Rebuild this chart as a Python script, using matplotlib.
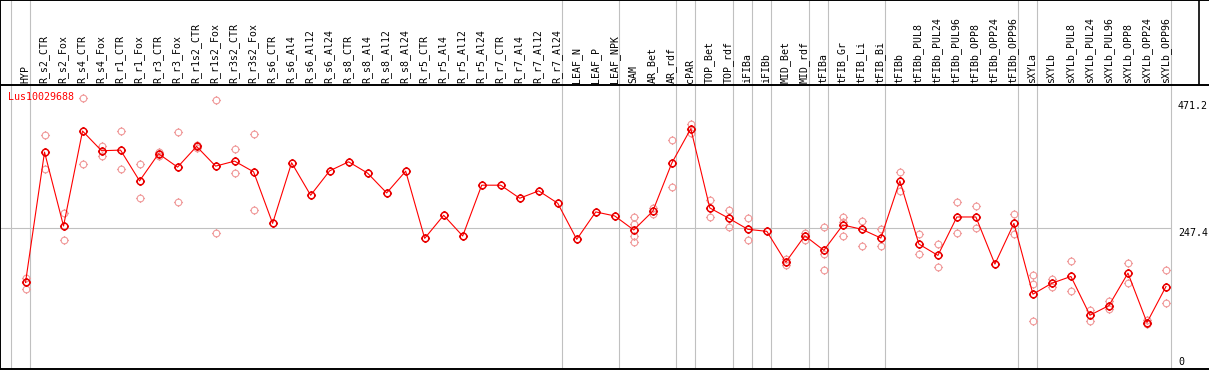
import numpy as np
import matplotlib
matplotlib.use('Agg')
import matplotlib.pyplot as plt
from matplotlib.path import Path

# sample names shown in the header
labels = ['HYP', 'R_s2_CTR', 'R_s2_Fox', 'R_s4_CTR', 'R_s4_Fox', 'R_r1_CTR', 'R_r1_Fox',
          'R_r3_CTR', 'R_r3_Fox', 'R_r1s2_CTR', 'R_r1s2_Fox', 'R_r3s2_CTR', 'R_r3s2_Fox',
          'R_s6_CTR', 'R_s6_Al4', 'R_s6_Al12', 'R_s6_Al24', 'R_s8_CTR', 'R_s8_Al4',
          'R_s8_Al12', 'R_s8_Al24', 'R_r5_CTR', 'R_r5_Al4', 'R_r5_Al12', 'R_r5_Al24',
          'R_r7_CTR', 'R_r7_Al4', 'R_r7_Al12', 'R_r7_Al24', 'LEAF_N', 'LEAF_P', 'LEAF_NPK',
          'SAM', 'AR_Bet', 'AR_rdf', 'cPAR', 'TOP_Bet', 'TOP_rdf', 'iFIBa', 'iFIBb',
          'MID_Bet', 'MID_rdf', 'tFIBa', 'tFIB_Gr', 'tFIB_Li', 'tFIB_Bi', 'tFIBb',
          'tFIBb_PUL8', 'tFIBb_PUL24', 'tFIBb_PUL96', 'tFIBb_OPP8', 'tFIBb_OPP24',
          'tFIBb_OPP96', 'sXYLa', 'sXYLb', 'sXYLb_PUL8', 'sXYLb_PUL24', 'sXYLb_PUL96',
          'sXYLb_OPP8', 'sXYLb_OPP24', 'sXYLb_OPP96']

# mean expression per sample
means = [151.4, 381.1, 250.9, 418.2, 383.5, 384.6, 330.4, 378.2, 354.6, 391.1,
         356.4, 365.2, 346.3, 255.6, 362.3, 305.1, 348.1, 364.0, 344.0, 309.2,
         347.5, 229.2, 269.8, 233.3, 322.8, 322.8, 299.8, 312.8, 291.0, 227.4,
         275.7, 268.6, 243.9, 276.9, 361.7, 422.3, 282.7, 264.5, 245.1, 241.5,
         187.3, 233.8, 208.0, 252.7, 245.1, 229.7, 330.4, 219.1, 199.1, 266.8,
         266.8, 183.8, 255.6, 130.8, 150.2, 162.0, 93.7, 110.8, 167.9, 80.8, 144.3]

# individual replicates (empty = single sample)
reps = [[160, 152, 140], [411, 351], [273, 226], [477, 360], [391, 375], [418, 351],
        [360, 300], [382, 374], [417, 293], [394, 388], [473, 238], [386, 345],
        [413, 279], [], [], [], [], [], [], [], [], [], [], [], [], [], [], [], [],
        [], [], [], [267, 254, 233, 222], [282, 272], [402, 320], [431, 414],
        [297, 267], [279, 250], [265, 226], [], [192, 183], [239, 226],
        [249, 201, 174], [267, 258, 233], [260, 215], [245, 215], [346, 313],
        [237, 201], [220, 178], [293, 238], [286, 247], [], [272, 237],
        [164, 148, 83], [157, 144], [189, 136], [103, 83], [118, 104], [186, 151],
        [85, 78], [173, 116]]

# last sample of each tissue group (separator drawn after it)
group_ends = [-1, 0, 28, 31, 34, 35, 37, 38, 39, 41, 42, 45, 52, 53, 60]
ref_ticks = [471.2, 247.4]
gene = 'Lus10029688'

W, H = 1209, 370
X0, DX = 26, 19          # pixel of first sample, pixels per sample
HEAD = 85                # header height in pixels

fig = plt.figure(figsize=(W / 100, H / 100), dpi=100)
xl = ((0.5 - X0) / DX, (W - X0) / DX)

ax = fig.add_axes([0, 1 / H, 1, (H - 1 - HEAD) / H])
hx = fig.add_axes([0, (H - HEAD) / H, 1, HEAD / H])
for a in (ax, hx):
    a.set_xlim(*xl)
    a.set_xticks([])
    a.set_yticks([])
    for s in a.spines.values():
        s.set_visible(False)
    a.spines['left'].set_visible(True)
    a.spines['left'].set_linewidth(1.4)
ax.spines['bottom'].set_visible(True)
ax.spines['bottom'].set_linewidth(1.4)
hx.spines['top'].set_visible(True)
hx.spines['bottom'].set_visible(True)
hx.spines['top'].set_linewidth(1.4)
hx.spines['bottom'].set_linewidth(1.4)
ax.set_ylim(-1, 499.3)
hx.set_ylim(0, 1)

# separators between tissue groups
for g in group_ends:
    for a in (ax, hx):
        a.axvline(g + 0.24, color='#c0c0c0', lw=0.8, zorder=0)
# right edge of the header box
hx.axvline((1199 - X0) / DX, color='black', lw=1.2)

ax.hlines(ref_ticks[1], xl[0], group_ends[-1] + 0.24, color='#c0c0c0', lw=0.8, zorder=0)

mono = 'DejaVu Sans Mono'
for i, lab in enumerate(labels):
    hx.text(i - 0.03, 0.025, lab, rotation=90, ha='center', va='bottom',
            family=mono, fontsize=7.1)

# marker: ring with four small ticks
ring = Path.unit_circle()
ticks = Path([(0, 1), (0, 1.35), (0, -1), (0, -1.35), (1, 0), (1.35, 0), (-1, 0), (-1.35, 0)],
             [Path.MOVETO, Path.LINETO] * 4)
mk = Path.make_compound_path(ring, ticks)

xs = np.arange(len(labels))
rx = [i for i, r in enumerate(reps) for v in r]
ry = [v for r in reps for v in r]
ax.plot(rx, ry, ls='none', marker=mk, ms=6.5, mfc='none', mec='#f09a9a', mew=0.8, zorder=2)
ax.plot(xs, means, color='red', lw=0.8, zorder=3)
ax.plot(xs, means, ls='none', marker=mk, ms=6.5, mfc='none', mec='#e80000', mew=1.1, zorder=4)

ax.text(0.007, 0.957, gene, transform=ax.transAxes, color='red', family=mono,
        fontsize=7.2, ha='left', va='center')

# value labels on the right
tr = ax.get_yaxis_transform()
xr = (1178 - 0.5) / (W - 0.5)
for v in ref_ticks:
    ax.text(xr, v, str(v), transform=tr, family=mono, fontsize=7.2, ha='left', va='top')
ax.text(xr, 2, '0', transform=tr, family=mono, fontsize=7.2, ha='left', va='bottom')

fig.savefig('out.png', dpi=100)
